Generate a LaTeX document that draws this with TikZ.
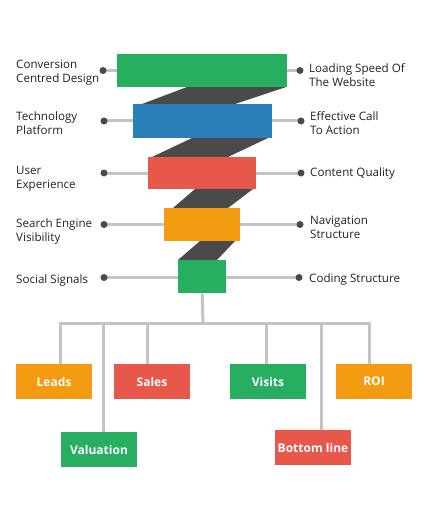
\documentclass[tikz,border=0pt]{standalone}
\usepackage{fontspec}
\setmainfont{Open Sans}
\definecolor{cgreen}{HTML}{27AE60}
\definecolor{cblue}{HTML}{2980B9}
\definecolor{cred}{HTML}{E8584A}
\definecolor{corange}{HTML}{F39C12}
\definecolor{cdark}{HTML}{4A4A4A}
\definecolor{cline}{HTML}{C4C4C4}
\definecolor{ctext}{HTML}{222222}
\begin{document}
\begin{tikzpicture}[x=1pt,y=-1pt,
  bar/.style={draw=none,inner sep=0pt,anchor=north west},
  lbl/.style={inner sep=0pt,align=left,text=ctext,font=\fontsize{11.6}{14}\selectfont},
  dotc/.style={circle,fill=cdark,inner sep=0pt,minimum size=7pt},
  link/.style={draw=cline,line width=3pt},
  outbox/.style={inner sep=0pt,minimum width=76pt,minimum height=35pt,text=white,font=\fontsize{12}{14}\selectfont\bfseries},
  band/.style={fill=cdark}]
\useasboundingbox[fill=white] (0,0) rectangle (428,513);
% dark bands
\fill[band] (187,87) -- (286,87) -- (235,104) -- (142,104) -- cycle;
\fill[band] (192,138) -- (268,138) -- (228,157) -- (152,157) -- cycle;
\fill[band] (195,189) -- (253,189) -- (228,208) -- (173,208) -- cycle;
\fill[band] (200,241) -- (235,241) -- (217,260) -- (178,260) -- cycle;
% bars
\node[bar,fill=cgreen,minimum width=170pt,minimum height=33pt] (b1) at (117,54) {};
\node[bar,fill=cblue,minimum width=139pt,minimum height=34pt] (b2) at (133,104) {};
\node[bar,fill=cred,minimum width=108pt,minimum height=32pt] (b3) at (148,157) {};
\node[bar,fill=corange,minimum width=76pt,minimum height=33pt] (b4) at (164,208) {};
\node[bar,fill=cgreen,minimum width=48pt,minimum height=33pt] (b5) at (178,260) {};
% dots
\coordinate (l1) at (103,70.5);
\coordinate (r1) at (300,70.5);
\coordinate (l2) at (104,121);
\coordinate (r2) at (301,121);
\coordinate (l3) at (104,173);
\coordinate (r3) at (301,173);
\coordinate (l4) at (104,224.5);
\coordinate (r4) at (300,224.5);
\coordinate (l5) at (104,277.5);
\coordinate (r5) at (299,277.5);
% side links
\draw[link] (l1) -- (b1.west |- l1);
\draw[link] (r1) -- (b1.east |- r1);
\draw[link] (l2) -- (b2.west |- l2);
\draw[link] (r2) -- (b2.east |- r2);
\draw[link] (l3) -- (b3.west |- l3);
\draw[link] (r3) -- (b3.east |- r3);
\draw[link] (l4) -- (b4.west |- l4);
\draw[link] (r4) -- (b4.east |- r4);
\draw[link] (l5) -- (b5.west |- l5);
\draw[link] (r5) -- (b5.east |- r5);
\node[dotc] (dl1) at (l1) {};\node[dotc] (dr1) at (r1) {};
\node[dotc] (dl2) at (l2) {};\node[dotc] (dr2) at (r2) {};
\node[dotc] (dl3) at (l3) {};\node[dotc] (dr3) at (r3) {};
\node[dotc] (dl4) at (l4) {};\node[dotc] (dr4) at (r4) {};
\node[dotc] (dl5) at (l5) {};\node[dotc] (dr5) at (r5) {};
% labels
\node[lbl,anchor=west] (t1) at (16,73) {Conversion\\Centred Design};
\node[lbl,anchor=west] (t2) at (16,123) {Technology\\Platform};
\node[lbl,anchor=west] (t3) at (16,179) {User\\Experience};
\node[lbl,anchor=west] (t4) at (16,231) {Search Engine\\Visibility};
\node[lbl,anchor=west] (t5) at (16,280) {Social Signals};
\node[lbl,anchor=west] (s1) at (309,75) {Loading Speed Of\\The Website};
\node[lbl,anchor=west] (s2) at (310,123.5) {Effective Call\\To Action};
\node[lbl,anchor=west] (s3) at (310,173) {Content Quality};
\node[lbl,anchor=west] (s4) at (310,227.5) {Navigation\\Structure};
\node[lbl,anchor=west] (s5) at (309,279.5) {Coding Structure};
% outcome boxes
\node[outbox,fill=corange] (leads) at (54,381.5) {Leads};
\node[outbox,fill=cred] (sales) at (152,381.5) {Sales};
\node[outbox,fill=cgreen] (visits) at (268,381.5) {Visits};
\node[outbox,fill=corange] (roi) at (374,381.5) {ROI};
\node[outbox,fill=cgreen] (val) at (99,449.5) {Valuation};
\node[outbox,fill=cred] (bot) at (313,447.5) {Bottom line};
% tree
\coordinate (j) at (203,323);
\draw[link] (b5.south) -- (j);
\draw[link] ([xshift=6pt]leads.north) |- (j) -| ([xshift=-5pt]roi.north);
\draw[link] ([xshift=4pt]val.north) -- ([xshift=4pt]val.north |- j);
\draw[link] ([xshift=-5pt]sales.north) -- ([xshift=-5pt]sales.north |- j);
\draw[link] ([xshift=-2pt]visits.north) -- ([xshift=-2pt]visits.north |- j);
\draw[link] ([xshift=8pt]bot.north) -- ([xshift=8pt]bot.north |- j);
\end{tikzpicture}
\end{document}
